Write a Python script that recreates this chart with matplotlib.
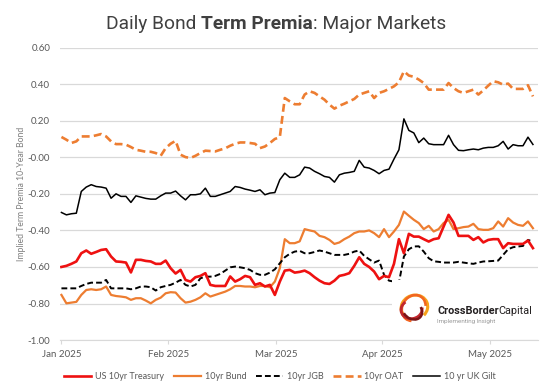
import matplotlib
matplotlib.use('Agg')
import matplotlib.pyplot as plt
from matplotlib.patches import Arc, Rectangle
import numpy as np
import pandas as pd

# Business days Jan 1 - May 14 2025
dates = pd.bdate_range("2025-01-01", periods=96)

us_10y = [
    -0.600, -0.594, -0.583, -0.570, -0.525, -0.510, -0.528, -0.518, -0.507, -0.503,
    -0.543, -0.570, -0.572, -0.576, -0.630, -0.561, -0.561, -0.567, -0.570, -0.583,
    -0.583, -0.565, -0.607, -0.636, -0.616, -0.671, -0.680, -0.656, -0.649, -0.634,
    -0.698, -0.704, -0.704, -0.704, -0.652, -0.680, -0.667, -0.649, -0.656, -0.698,
    -0.689, -0.707, -0.698, -0.753, -0.680, -0.620, -0.616, -0.631, -0.627, -0.620,
    -0.634, -0.656, -0.675, -0.689, -0.693, -0.675, -0.649, -0.643, -0.634, -0.594,
    -0.547, -0.583, -0.600, -0.625, -0.667, -0.649, -0.656, -0.583, -0.448, -0.525,
    -0.419, -0.434, -0.434, -0.448, -0.461, -0.448, -0.443, -0.379, -0.315, -0.357,
    -0.430, -0.430, -0.430, -0.452, -0.437, -0.466, -0.452, -0.448, -0.448, -0.497,
    -0.470, -0.474, -0.474, -0.474, -0.455, -0.497]

bund = [
    -0.753, -0.799, -0.795, -0.791, -0.753, -0.726, -0.722, -0.726, -0.722, -0.707,
    -0.753, -0.759, -0.762, -0.766, -0.780, -0.771, -0.771, -0.784, -0.799, -0.780,
    -0.768, -0.744, -0.738, -0.740, -0.771, -0.795, -0.790, -0.780, -0.766, -0.744,
    -0.762, -0.753, -0.744, -0.735, -0.722, -0.704, -0.704, -0.707, -0.707, -0.711,
    -0.704, -0.704, -0.711, -0.680, -0.607, -0.448, -0.470, -0.470, -0.460, -0.393,
    -0.400, -0.406, -0.430, -0.437, -0.452, -0.474, -0.466, -0.448, -0.434, -0.415,
    -0.406, -0.406, -0.400, -0.415, -0.437, -0.393, -0.437, -0.406, -0.370, -0.297,
    -0.320, -0.342, -0.360, -0.393, -0.375, -0.406, -0.393, -0.360, -0.342, -0.393,
    -0.388, -0.382, -0.379, -0.364, -0.393, -0.397, -0.397, -0.388, -0.351, -0.379,
    -0.333, -0.357, -0.370, -0.375, -0.351, -0.388]

jgb = [
    -0.717, -0.717, -0.717, -0.717, -0.704, -0.693, -0.686, -0.686, -0.686, -0.671,
    -0.717, -0.717, -0.717, -0.717, -0.722, -0.717, -0.707, -0.707, -0.711, -0.729,
    -0.711, -0.704, -0.698, -0.686, -0.671, -0.698, -0.707, -0.698, -0.662, -0.653,
    -0.653, -0.649, -0.638, -0.620, -0.602, -0.598, -0.602, -0.607, -0.616, -0.634,
    -0.643, -0.643, -0.631, -0.613, -0.580, -0.547, -0.528, -0.516, -0.512, -0.525,
    -0.525, -0.518, -0.510, -0.516, -0.525, -0.534, -0.534, -0.534, -0.528, -0.516,
    -0.510, -0.539, -0.558, -0.576, -0.565, -0.643, -0.675, -0.680, -0.686, -0.543,
    -0.503, -0.488, -0.487, -0.516, -0.552, -0.569, -0.572, -0.576, -0.576, -0.576,
    -0.572, -0.576, -0.580, -0.583, -0.576, -0.570, -0.569, -0.567, -0.565, -0.534,
    -0.503, -0.492, -0.488, -0.485, -0.452, -0.461]

oat = [
    0.111, 0.096, 0.078, 0.087, 0.114, 0.114, 0.114, 0.120, 0.127, 0.114,
    0.087, 0.072, 0.072, 0.069, 0.056, 0.041, 0.036, 0.030, 0.030, 0.023,
    0.008, 0.050, 0.074, 0.090, 0.014, 0.001, -0.004, 0.008, 0.023, 0.036,
    0.034, 0.032, 0.041, 0.049, 0.063, 0.074, 0.081, 0.081, 0.078, 0.074,
    0.050, 0.059, 0.078, 0.100, 0.110, 0.324, 0.306, 0.290, 0.290, 0.343,
    0.361, 0.352, 0.333, 0.315, 0.288, 0.266, 0.282, 0.293, 0.306, 0.319,
    0.343, 0.352, 0.361, 0.324, 0.352, 0.361, 0.374, 0.388, 0.410, 0.470,
    0.447, 0.440, 0.425, 0.406, 0.370, 0.370, 0.370, 0.370, 0.406, 0.379,
    0.361, 0.352, 0.361, 0.370, 0.343, 0.366, 0.392, 0.416, 0.410, 0.397,
    0.403, 0.374, 0.374, 0.374, 0.394, 0.333]

gilt = [
    -0.302, -0.315, -0.309, -0.306, -0.187, -0.163, -0.150, -0.160, -0.163, -0.169,
    -0.224, -0.200, -0.214, -0.214, -0.247, -0.211, -0.218, -0.225, -0.229, -0.229,
    -0.211, -0.196, -0.196, -0.185, -0.211, -0.233, -0.205, -0.205, -0.200, -0.169,
    -0.214, -0.214, -0.205, -0.196, -0.187, -0.160, -0.165, -0.174, -0.180, -0.187,
    -0.178, -0.205, -0.196, -0.193, -0.123, -0.087, -0.110, -0.110, -0.096, -0.054,
    -0.059, -0.077, -0.090, -0.105, -0.110, -0.136, -0.096, -0.087, -0.083, -0.077,
    -0.017, -0.054, -0.059, -0.072, -0.090, -0.072, -0.065, -0.010, 0.041, 0.210,
    0.147, 0.133, 0.080, 0.105, 0.074, 0.069, 0.069, 0.069, 0.120, 0.069,
    0.038, 0.036, 0.041, 0.045, 0.041, 0.050, 0.054, 0.054, 0.063, 0.087,
    0.045, 0.069, 0.063, 0.063, 0.110, 0.070]

month_labels = ["Jan 2025", "Feb 2025", "Mar 2025", "Apr 2025", "May 2025"]
month_pos = [0, 21.5, 43.3, 64.6, 86.3]   # month starts on the day index
y_ticks = np.arange(-1.0, 0.61, 0.2)

plt.rcParams['font.family'] = ['Lato', 'DejaVu Sans']

fig = plt.figure(figsize=(5.5, 3.9), dpi=100)
ax = fig.add_axes([0.109, 0.128, 0.869, 0.75])

x = np.arange(len(dates))
ax.plot(x, gilt, color='black', lw=1.1, label='10 yr UK Gilt', zorder=3)
ax.plot(x, oat, color='#ED7D31', lw=1.9, ls=(0, (3, 1.6)), label='10yr OAT', zorder=3)
ax.plot(x, bund, color='#ED7D31', lw=1.6, label='10yr Bund', zorder=3)
ax.plot(x, jgb, color='black', lw=1.4, ls=(0, (3, 1.6)), label='10yr JGB', zorder=4)
ax.plot(x, us_10y, color='#EE1111', lw=1.9, label='US 10yr Treasury', zorder=5)

ax.set_xlim(-0.3, 96)
ax.set_ylim(-1.0, 0.6)
ax.set_yticks(y_ticks)
ax.set_yticklabels([f"{v:.2f}" for v in y_ticks])
ax.set_xticks(month_pos)
ax.set_xticklabels(month_labels)
ax.grid(axis='y', color='#D9D9D9', lw=0.9)
ax.set_axisbelow(True)
for s in ['top', 'right', 'left']:
    ax.spines[s].set_visible(False)
ax.spines['bottom'].set_color('#D9D9D9')
ax.tick_params(axis='y', length=0, labelsize=7, labelcolor='#595959', pad=7)
ax.tick_params(axis='x', length=3, color='#D9D9D9', labelsize=7, labelcolor='#595959', pad=4)
ax.set_ylabel('Implied Term Premia 10-Year Bond', fontsize=6.2, color='#7F7F7F', labelpad=1.5)


def chain_texts(x0, y0, parts, **kw):
    """Draw text pieces one after the other on a baseline, in figure pixels."""
    fig.canvas.draw()
    r = fig.canvas.get_renderer()
    cur = x0
    for s, extra in parts:
        t = fig.text(cur / fig.bbox.width, y0 / fig.bbox.height, s, va='baseline', **kw, **extra)
        cur = t.get_window_extent(r).x1


# title with a bold middle part
chain_texts(106, 390 - 29,
            [("Daily Bond ", {}), ("Term Premia", {'fontweight': 'bold'}), (": Major Markets", {})],
            fontsize=13.8, color='#404040', family='Roboto')

# legend
handles, labels = ax.get_legend_handles_labels()
order = [4, 2, 3, 1, 0]
fig.legend([handles[i] for i in order], [labels[i] for i in order],
           loc='center', bbox_to_anchor=(0.509, 0.034), ncol=5, frameon=False,
           fontsize=6.5, handlelength=3.0, columnspacing=1.1, handletextpad=0.4,
           labelcolor='#595959')

# logo block
fig.patches.append(Rectangle((392 / 550, 1 - 336 / 390), 150 / 550, 56 / 390,
                             transform=fig.transFigure, facecolor='white',
                             edgecolor='none', zorder=6))
lax = fig.add_axes([396 / 550, 1 - 334 / 390, 34 / 550, 52 / 390], zorder=7)
lax.set_xlim(-1.2, 1.2)
lax.set_ylim(-1.2, 1.2)
lax.set_aspect('equal')
lax.axis('off')
lax.add_patch(Arc((0.1, 0.05), 1.9, 1.7, angle=20, theta1=-60, theta2=200, color='#F7A21B', lw=2.2))
lax.add_patch(Arc((0.05, 0.0), 1.6, 1.9, angle=-30, theta1=40, theta2=290, color='#F26522', lw=1.8))
lax.add_patch(Arc((-0.1, -0.1), 1.5, 1.3, angle=10, theta1=120, theta2=360, color='#C1272D', lw=2.0))
lax.add_patch(Arc((-0.05, -0.15), 1.2, 1.5, angle=50, theta1=150, theta2=330, color='#7B1416', lw=1.8))
chain_texts(437, 390 - 314,
            [("CrossBorder", {'fontweight': 'bold'}), ("Capital", {})],
            fontsize=7.8, color='#231F20', family='Roboto', zorder=8)
fig.text(437 / 550, 1 - 323 / 390, "Implementing Insight", fontsize=4.5, color='#9A9A9A',
         family='Roboto', zorder=8)

fig.savefig('out.png', dpi=100)
